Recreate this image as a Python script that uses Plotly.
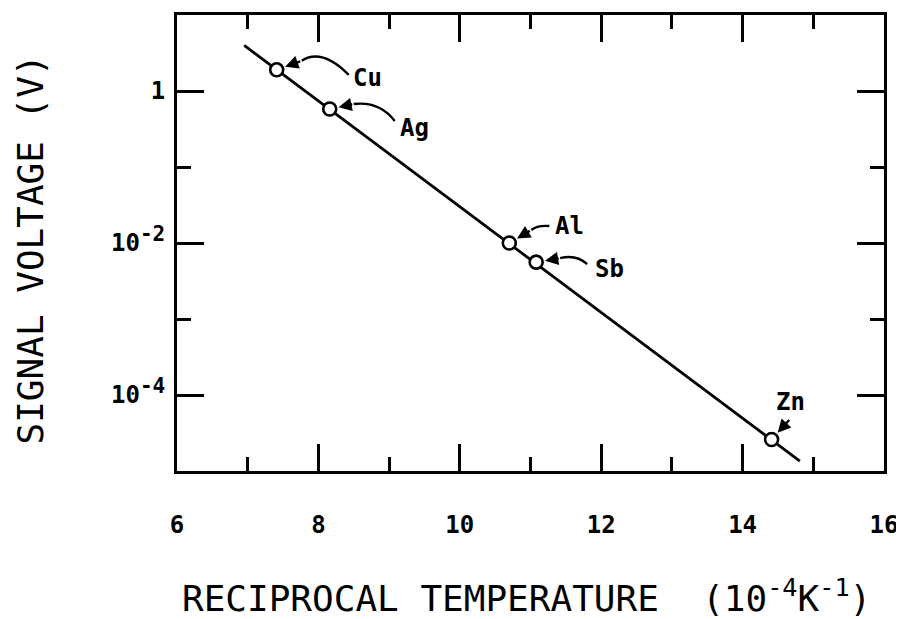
import math
import plotly.graph_objects as go

# ---- data ----
metals = ["Cu", "Ag", "Al", "Sb", "Zn"]
recip_temp = [7.41, 8.16, 10.70, 11.08, 14.41]          # 10^-4 K^-1
signal_v = [1.90, 0.58, 0.010, 0.0056, 2.6e-5]          # V
fit_x = [6.95, 14.81]
fit_y = [3.98, 1.35e-5]

x_tickvals = [6, 8, 10, 12, 14, 16]
x_ticktext = ["6", "8", "10", "12", "14", "16"]
y_tickvals = [1, 1e-2, 1e-4]
y_ticktext = ["1",
              "10<sup><span style='font-size:21px'>-2</span></sup>",
              "10<sup><span style='font-size:21px'>-4</span></sup>"]
y_minorvals = [10, 1e-1, 1e-3, 1e-5]

# ---- label / pointer styling (screen pixel offsets from each point; +y is down) ----
label_dx = [91, 85, 60, 73, 19]
label_dy = [8, 19, -17, 7, -37]
tail_dx = [25, 24, 22, 24, 19]       # start of the short arrow carrying the head
tail_dy = [-9, -5, -13, -4, -21]
curve_sx = [72, 65, 40, 51, 19]      # curved leader start (near label)
curve_sy = [5, 12, -17, 2, -21]
curve_cx = [45, 50, 28, 40, 19]      # bezier control point
curve_cy = [-22, -8, -18, -8, -21]

FONT = "DejaVu Sans Mono"

fig = go.Figure()
fig.add_trace(go.Scatter(x=fit_x, y=fit_y, mode="lines",
                         line=dict(color="black", width=2.8),
                         showlegend=False, hoverinfo="skip"))
fig.add_trace(go.Scatter(x=recip_temp, y=signal_v, mode="markers",
                         marker=dict(symbol="circle", size=13, color="white",
                                     line=dict(color="black", width=2.6)),
                         text=metals, showlegend=False))

for i, m in enumerate(metals):
    x = recip_temp[i]
    v = signal_v[i]
    ly = math.log10(v)
    # label
    fig.add_annotation(x=x, y=ly, xref="x", yref="y", text=m, showarrow=False,
                       xshift=label_dx[i], yshift=-label_dy[i],
                       font=dict(family=FONT, size=24, color="black",
                                 weight="bold"))
    # arrow head with short shaft
    fig.add_annotation(x=x, y=ly, xref="x", yref="y", text="",
                       showarrow=True, ax=tail_dx[i], ay=tail_dy[i],
                       arrowhead=2, arrowsize=1.1, arrowwidth=2.4,
                       arrowcolor="black", standoff=9)
    # curved leader from label to shaft
    if (curve_sx[i], curve_sy[i]) != (tail_dx[i], tail_dy[i]):
        path = "M {},{} Q {},{} {},{}".format(
            curve_sx[i], -curve_sy[i], curve_cx[i], -curve_cy[i],
            tail_dx[i], -tail_dy[i])
        fig.add_shape(type="path", xref="x", yref="y",
                      xsizemode="pixel", ysizemode="pixel",
                      xanchor=x, yanchor=v, path=path,
                      line=dict(color="black", width=2.4))

fig.add_annotation(text="RECIPROCAL TEMPERATURE  (10<sup>-4</sup>K<sup>-1</sup>)",
                   xref="paper", yref="paper", x=0.494, y=-0.274,
                   xanchor="center", yanchor="middle", showarrow=False,
                   font=dict(family=FONT, size=36, color="black"))
fig.add_annotation(text="SIGNAL VOLTAGE (V)",
                   xref="paper", yref="paper", x=-0.207, y=0.485,
                   xanchor="center", yanchor="middle", showarrow=False,
                   textangle=-90,
                   font=dict(family=FONT, size=36, color="black"))

axis_common = dict(showline=True, linecolor="black", linewidth=3,
                   mirror="allticks", ticks="inside", tickcolor="black",
                   tickwidth=3, ticklen=27, showgrid=False, zeroline=False,
                   tickfont=dict(family=FONT, size=24, color="black",
                                 weight="bold"))

fig.update_xaxes(range=[6, 16], tickmode="array", tickvals=x_tickvals,
                 ticktext=x_ticktext, ticklabelstandoff=30,
                 minor=dict(dtick=1, ticks="inside", ticklen=14, tickwidth=3,
                            tickcolor="black", showgrid=False),
                 **axis_common)
fig.update_yaxes(type="log", range=[-5, 1], tickmode="array",
                 tickvals=y_tickvals, ticktext=y_ticktext,
                 ticklabelstandoff=4,
                 minor=dict(tickmode="array", tickvals=y_minorvals,
                            ticks="inside", ticklen=14, tickwidth=3,
                            tickcolor="black", showgrid=False),
                 **axis_common)

# the page body adds an 8px offset, so the figure is sized to fit the window
fig.update_layout(width=896, height=611,
                  margin=dict(l=169, r=20, t=4, b=148),
                  paper_bgcolor="white", plot_bgcolor="white",
                  font=dict(family=FONT, color="black"))

fig.write_html("out.html")
